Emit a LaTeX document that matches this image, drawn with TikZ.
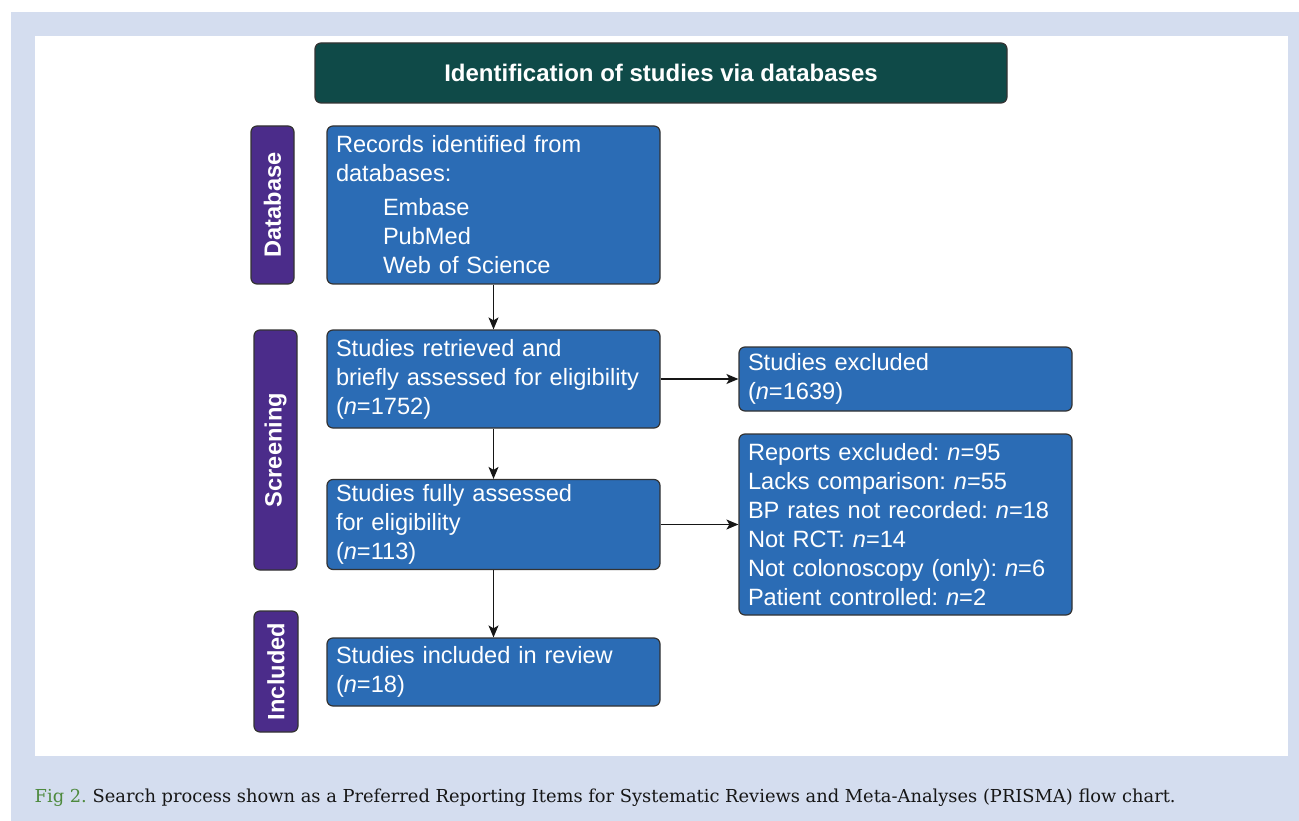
\documentclass[tikz,border=0pt]{standalone}
\usepackage{fontspec}
\setmainfont{Liberation Sans}
\newfontfamily\capfont{DejaVu Serif}
\usetikzlibrary{arrows.meta}
\frenchspacing
\definecolor{panelbg}{HTML}{D4DDEF}
\definecolor{boxblue}{HTML}{2B6CB5}
\definecolor{sidepurple}{HTML}{4B2C8A}
\definecolor{headteal}{HTML}{0F4A48}
\definecolor{edgegray}{HTML}{333333}
\definecolor{capgreen}{HTML}{4E8A3E}
\definecolor{captext}{HTML}{161616}
\tikzset{
  x=1pt, y=1pt,
  boxtext/.style={font=\fontsize{23.6}{29}\selectfont},
  flowbox/.style={draw=edgegray, line width=1.2pt, fill=boxblue, rounded corners=6pt,
    text=white, boxtext, align=left, inner xsep=9pt, inner ysep=0pt,
    minimum width=#1, text width=#1-18pt},
  sidebox/.style={draw=edgegray, line width=1.2pt, fill=sidepurple, rounded corners=6pt,
    text=white, font=\fontsize{23.6}{29}\selectfont\bfseries, rotate=90, inner sep=0pt},
  headbox/.style={draw=edgegray, line width=1.2pt, fill=headteal, rounded corners=6pt,
    text=white, font=\fontsize{24}{29}\selectfont\bfseries, inner sep=0pt},
  flowarrow/.style={draw=captext, line width=1.3pt, -{Stealth[length=12pt,width=10pt,inset=3pt]}}
}
\begin{document}
\begin{tikzpicture}
\useasboundingbox (0,0) rectangle (1299,-821);
\fill[white] (0,0) rectangle (1299,-821);
\fill[panelbg] (11,-12) rectangle (1299,-821);
\fill[white] (35,-36) rectangle (1288,-756);

\node[headbox, minimum width=692pt, minimum height=60pt] (head) at (661,-73) {Identification of studies via databases};

\node[sidebox, minimum width=158pt, minimum height=43pt] (sdb) at (272.5,-205) {Database};
\node[sidebox, minimum width=240pt, minimum height=43pt] (sscr) at (275.5,-450) {Screening};
\node[sidebox, minimum width=121pt, minimum height=44pt] (sinc) at (276,-671.5) {Included};

\node[flowbox=333pt, minimum height=158pt] (rec) at (493.5,-205) {Records identified from\\databases:\\[5pt]
\hspace*{47pt}Embase\\\hspace*{47pt}PubMed\\\hspace*{47pt}Web of Science};
\node[flowbox=333pt, minimum height=98pt] (ret) at (493.5,-379) {Studies retrieved and\\briefly assessed for eligibility\\(\textit{n}=1752)};
\node[flowbox=333pt, minimum height=90pt] (full) at (493.5,-524.5) {Studies fully assessed\\for eligibility\\(\textit{n}=113)};
\node[flowbox=333pt, minimum height=68pt] (inc) at (493.5,-672) {Studies included in review\\(\textit{n}=18)};
\node[flowbox=333pt, minimum height=64pt] (exc) at (905.5,-379) {Studies excluded\\(\textit{n}=1639)};
\node[flowbox=333pt, minimum height=181pt] (rep) at (905.5,-524.5) {Reports excluded: \textit{n}=95\\Lacks comparison: \textit{n}=55\\BP rates not recorded: \textit{n}=18\\Not RCT: \textit{n}=14\\Not colonoscopy (only): \textit{n}=6\\Patient controlled: \textit{n}=2};

\draw[flowarrow] (rec.south) -- (ret.north);
\draw[flowarrow] (ret.south) -- (full.north);
\draw[flowarrow] (full.south) -- (inc.north);
\draw[flowarrow] (ret.east) -- (exc.west);
\draw[flowarrow] (full.east) -- (rep.west);

\node[anchor=base west, inner sep=0pt, font=\capfont\fontsize{17.85}{20}\selectfont, text=captext] (cap) at (34.5,-802.3)
  {\textcolor{capgreen}{Fig 2.} Search process shown as a Preferred Reporting Items for Systematic Reviews and Meta-Analyses (PRISMA) flow chart.};
\end{tikzpicture}
\end{document}
